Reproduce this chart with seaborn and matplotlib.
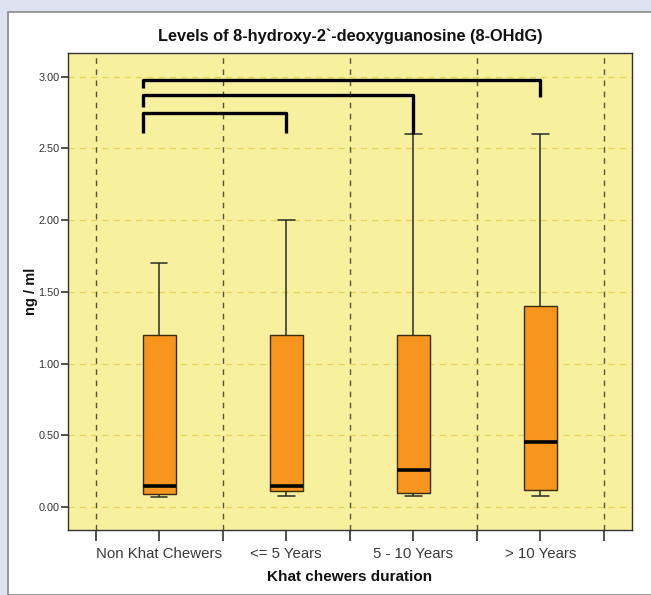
import matplotlib
matplotlib.use("Agg")
import matplotlib.pyplot as plt
import seaborn as sns
import pandas as pd
from matplotlib.patches import Rectangle

# Five-number summaries (min, q1, median, q3, max)
groups = ['Non Khat Chewers', '<= 5 Years', '5 - 10 Years', '> 10 Years']
lows = [0.07, 0.08, 0.08, 0.08]
q1s = [0.09, 0.11, 0.10, 0.12]
medians = [0.15, 0.15, 0.26, 0.45]
q3s = [1.20, 1.20, 1.20, 1.40]
highs = [1.70, 2.00, 2.60, 2.60]

# Comparison brackets: (from group, to group, height, left drop, right drop)
bracket_pairs = [(0, 3), (0, 2), (0, 1)]
bracket_heights = [2.98, 2.87, 2.75]
bracket_left_ends = [2.92, 2.79, 2.61]
bracket_right_ends = [2.86, 2.60, 2.61]

rows = []
for g, lo, a, m, b, hi in zip(groups, lows, q1s, medians, q3s, highs):
    for v in (lo, a, m, b, hi):
        rows.append({'group': g, 'value': v})
df = pd.DataFrame(rows)

sns.set_style("white")
plt.rcParams['font.family'] = ['Liberation Sans', 'DejaVu Sans']

fig = plt.figure(figsize=(6.51, 5.95), dpi=100)
fig.patch.set_facecolor('#dfe2f1')
fig.patches.append(Rectangle((8 / 651, 0), 1, 1 - 12 / 595, transform=fig.transFigure,
                             facecolor='white', edgecolor='#8a8a8a', linewidth=1.2, zorder=-5))

ax = fig.add_axes([68 / 651, 1 - 530 / 595, (632 - 68) / 651, (530 - 53) / 595])
ax.set_facecolor('#f7f09e')

sns.boxplot(data=df, x='group', y='value', order=groups, color='#f7951f', width=0.26,
            whis=(0, 100), showfliers=False, linecolor='#2a2a2a', linewidth=1.1,
            medianprops=dict(color='black', linewidth=2.6),
            boxprops=dict(facecolor='#f7951f', edgecolor='#3a2a10', linewidth=1.0),
            saturation=1, ax=ax)

# significance brackets
for (i, j), h, le, re in zip(bracket_pairs, bracket_heights, bracket_left_ends, bracket_right_ends):
    xl = i - 0.13
    ax.plot([xl, xl, j, j], [le, h, h, re], color='black', linewidth=2.4,
            solid_capstyle='butt', zorder=5)

ax.set_xlim(-0.717, 3.72)
ax.set_ylim(-0.16, 3.165)
ax.set_yticks([0, 0.5, 1.0, 1.5, 2.0, 2.5, 3.0])
ax.set_yticklabels(['0.00', '0.50', '1.00', '1.50', '2.00', '2.50', '3.00'], fontsize=7.8, color='#333333')
ax.set_xticks(range(len(groups)))
ax.set_xticklabels(groups, fontsize=10.8, color='#3a3a3a')
ax.set_xticks([-0.5, 0.5, 1.5, 2.5, 3.5], minor=True)

ax.grid(False)
for y in [0, 0.5, 1.0, 1.5, 2.0, 2.5, 3.0]:
    ax.axhline(y, color='#e6d456', linestyle=(0, (5, 4)), linewidth=0.9, zorder=0.5)
for x in [-0.5, 0.5, 1.5, 2.5, 3.5]:
    ax.axvline(x, color='#555533', linestyle=(0, (4, 4)), linewidth=1.0, zorder=0.5)

ax.tick_params(axis='x', which='both', direction='out', length=8, width=1.2, color='#333333', pad=4,
               bottom=True)
ax.tick_params(axis='y', which='major', direction='out', length=5, width=1.2, color='#333333', pad=1,
               left=True)

for s in ax.spines.values():
    s.set_color('#333333')
    s.set_linewidth(1.0)

ax.set_title('Levels of 8-hydroxy-2`-deoxyguanosine (8-OHdG)', fontsize=11.8, fontweight='bold',
             color='#111111', pad=9)
ax.set_xlabel('Khat chewers duration', fontsize=11, fontweight='bold', color='#111111', labelpad=7)
ax.set_ylabel('ng / ml', fontsize=10.5, fontweight='bold', color='#111111', labelpad=0)

fig.savefig('out.png', dpi=100, facecolor=fig.get_facecolor())
